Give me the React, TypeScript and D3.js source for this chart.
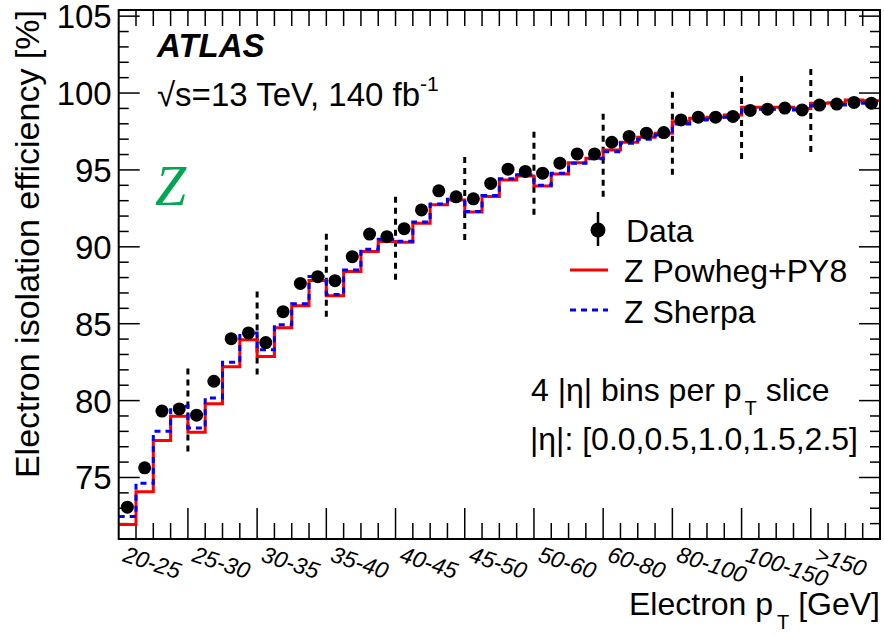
import React from 'react';
import * as d3 from 'd3';

const ptSlices = ['20-25', '25-30', '30-35', '35-40', '40-45', '45-50', '50-60', '60-80', '80-100', '100-150', '>150'];
const etaPerSlice = 4;

const dataEff = [73.07, 75.63, 79.32, 79.46, 79.05, 81.26, 84.03, 84.4, 83.77, 85.78,
  87.62, 88.06, 87.8, 89.36, 90.83, 90.66, 91.18, 92.4, 93.64, 93.25,
  93.12, 94.12, 95.05, 94.9, 94.79, 95.44, 96.04, 96.04, 96.8, 97.18,
  97.39, 97.43, 98.25, 98.43, 98.43, 98.48, 98.87, 98.95, 99.02, 98.9,
  99.22, 99.28, 99.39, 99.34];

const powhegEff = [71.95, 74.07, 77.4, 78.98, 77.94, 79.79, 82.2, 83.96, 82.86, 84.74,
  86.17, 87.81, 86.82, 88.4, 89.7, 90.35, 90.3, 91.54, 92.73, 93.05,
  92.27, 93.27, 94.35, 94.6, 93.96, 94.74, 95.47, 95.76, 96.3, 96.8,
  97.12, 97.38, 98.14, 98.36, 98.42, 98.57, 99.07, 99.07, 99.07, 99.0,
  99.33, 99.37, 99.55, 99.5];

const sherpaEff = [72.47, 74.63, 78.01, 79.63, 78.22, 80.17, 82.5, 84.4, 83.3, 84.94,
  86.3, 88.07, 86.9, 88.5, 89.85, 90.5, 90.37, 91.62, 92.79, 93.1,
  92.3, 93.33, 94.42, 94.68, 94.0, 94.78, 95.43, 95.72, 96.19, 96.73,
  97.0, 97.27, 97.99, 98.25, 98.29, 98.42, 98.9, 98.94, 98.94, 98.9,
  99.18, 99.22, 99.37, 99.33];

// dashed separators between pT slices: [low, high] in %
const sepLow = [76.69, 81.69, 85.45, 87.86, 90.45, 92.08, 93.25, 94.68, 95.71, 96.17];
const sepHigh = [82.34, 87.21, 90.91, 93.5, 96.1, 97.73, 98.83, 100.19, 101.3, 101.75];

const yTicks = [75, 80, 85, 90, 95, 100, 105];

const W = 884;
const H = 636;
const L = 118.7, R = 880, T = 10, B = 539;
const FONT = '"Liberation Sans", Arial, Helvetica, sans-serif';

export default function App() {
  const nBins = ptSlices.length * etaPerSlice;
  const x = d3.scaleLinear().domain([0, nBins]).range([L, R]);
  const y = d3.scaleLinear().domain([71, 105.4]).range([B, T]);

  const stepPath = (vals: number[]) => {
    const pts: [number, number][] = vals.map((v, i) => [i, v]);
    pts.push([vals.length, vals[vals.length - 1]]);
    return d3.line<[number, number]>()
      .x(d => x(d[0]))
      .y(d => y(d[1]))
      .curve(d3.curveStepAfter)(pts) || '';
  };

  const binEdges = d3.range(1, nBins);
  const minorY = d3.range(72, 106).filter(v => v % 5 !== 0);

  return (
    <svg width={W} height={H} style={{ position: 'absolute', left: 0, top: 0, background: '#fff' }}
      fontFamily={FONT}>
      <rect x={0} y={0} width={W} height={H} fill="#fff" />

      {/* x ticks */}
      {binEdges.map(i => (
        <g key={'xt' + i} stroke="#000" strokeWidth={1.5}>
          <line x1={x(i)} x2={x(i)} y1={B} y2={B - (i % etaPerSlice === 0 ? 31 : 16)} />
          <line x1={x(i)} x2={x(i)} y1={T} y2={T + 16} />
        </g>
      ))}
      {/* y ticks */}
      {yTicks.map(v => (
        <g key={'yt' + v} stroke="#000" strokeWidth={1.5}>
          <line x1={L} x2={L + 21} y1={y(v)} y2={y(v)} />
          <line x1={R} x2={R - 21} y1={y(v)} y2={y(v)} />
        </g>
      ))}
      {minorY.map(v => (
        <g key={'ym' + v} stroke="#000" strokeWidth={1.5}>
          <line x1={L} x2={L + 10} y1={y(v)} y2={y(v)} />
          <line x1={R} x2={R - 10} y1={y(v)} y2={y(v)} />
        </g>
      ))}

      {/* slice separators */}
      {sepLow.map((lo, k) => (
        <line key={'sep' + k} x1={x((k + 1) * etaPerSlice)} x2={x((k + 1) * etaPerSlice)}
          y1={y(lo)} y2={y(sepHigh[k])} stroke="#000" strokeWidth={3} strokeDasharray="6 5" />
      ))}

      {/* MC histograms */}
      <path d={stepPath(powhegEff)} fill="none" stroke="#ff0000" strokeWidth={3} />
      <path d={stepPath(sherpaEff)} fill="none" stroke="#0000ff" strokeWidth={3} strokeDasharray="6 5" />

      {/* data */}
      {dataEff.map((v, i) => (
        <circle key={'d' + i} cx={x(i + 0.5)} cy={y(v)} r={6.5} fill="#000" />
      ))}

      {/* frame */}
      <rect x={L} y={T} width={R - L} height={B - T} fill="none" stroke="#000" strokeWidth={2} />

      {/* y tick labels */}
      {yTicks.map(v => (
        <text key={'yl' + v} x={L - 7} y={y(v) + 12} textAnchor="end" fontSize={33}>{v}</text>
      ))}

      {/* x tick labels */}
      {ptSlices.map((s, k) => (
        <text key={'xl' + k} transform={`translate(${x(k * etaPerSlice) + 3},${B + 22}) rotate(18)`}
          fontSize={23} fontStyle="italic">{s}</text>
      ))}

      {/* axis titles */}
      <text transform={`translate(39,10) rotate(-90)`} textAnchor="end" fontSize={34}>
        Electron isolation efficiency [%]
      </text>
      <text x={880} y={615} fontSize={32} textAnchor="end">
        Electron p<tspan dx={4} dy={14} fontSize={20}>T</tspan><tspan dy={-14}> [GeV]</tspan>
      </text>

      {/* labels */}
      <text x={157} y={57} fontSize={33} fontWeight="bold" fontStyle="italic">ATLAS</text>
      <text x={157} y={106} fontSize={33}>
        √s=13 TeV, 140 fb<tspan dy={-15} fontSize={21}>-1</tspan>
      </text>
      <text x={155} y={205} fontSize={56} fontStyle="italic" fill="#00a651"
        fontFamily='"Liberation Serif", "Times New Roman", serif'>Z</text>

      {/* legend */}
      <line x1={598} x2={598} y1={212} y2={246} stroke="#000" strokeWidth={2.5} />
      <circle cx={598} cy={230} r={7.5} fill="#000" />
      <text x={626} y={242} fontSize={32}>Data</text>
      <line x1={570} x2={608} y1={270} y2={270} stroke="#ff0000" strokeWidth={3} />
      <text x={624} y={282} fontSize={32}>Z Powheg+PY8</text>
      <line x1={570} x2={608} y1={310} y2={310} stroke="#0000ff" strokeWidth={3} strokeDasharray="6 5" />
      <text x={624} y={323} fontSize={32}>Z Sherpa</text>

      {/* annotation */}
      <text x={531} y={401} fontSize={32}>
        4 |η| bins per p<tspan dx={3} dy={14} fontSize={20}>T</tspan><tspan dy={-14}> slice</tspan>
      </text>
      <text x={530} y={450} fontSize={32}>|η|: [0.0,0.5,1.0,1.5,2.5]</text>
    </svg>
  );
}
